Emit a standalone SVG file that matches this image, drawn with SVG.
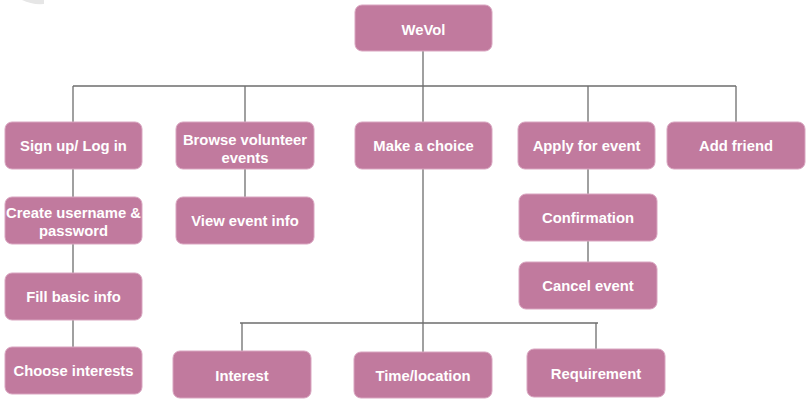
<svg xmlns="http://www.w3.org/2000/svg" width="809" height="401" viewBox="0 0 809 401">
<style>
.box{fill:#C17A9E;stroke:#D9A5C0;stroke-width:1}
.t{font-family:"Liberation Sans",Arial,sans-serif;font-size:14.8px;font-weight:bold;fill:#FFFFFF;text-anchor:middle}
.ln{stroke:#6E6E6E;stroke-width:1.3;fill:none}
</style>
<rect width="809" height="401" fill="#FFFFFF"/>
<path d="M22,0 Q32,5 44,4 L44,0 Z" fill="#E6E6E6"/>
<g id="connectors">
<path class="ln" d="M423,51 V86 M73,86 H736 M73,86 V122 M245,86 V122 M423,86 V122 M588,86 V122 M736,86 V122"/>
<path class="ln" d="M73,169 V197 M73,244 V273 M73,320 V347"/>
<path class="ln" d="M245,169 V197"/>
<path class="ln" d="M588,169 V194 M588,241 V262"/>
<path class="ln" d="M423,169 V352 M240,323 H598 M242,323 V351 M596,323 V349"/>
</g>
<g id="n-wevol"><rect class="box" x="355" y="5" width="137" height="46" rx="7"/><text class="t" x="423.5" y="35">WeVol</text></g>
<g id="n-signup"><rect class="box" x="5" y="122" width="137" height="47" rx="7"/><text class="t" x="73.5" y="151">Sign up/ Log in</text></g>
<g id="n-browse"><rect class="box" x="176" y="122" width="138" height="47" rx="7"/><text class="t" x="245" y="145">Browse volunteer</text><text class="t" x="245" y="163">events</text></g>
<g id="n-choice"><rect class="box" x="355" y="122" width="137" height="47" rx="7"/><text class="t" x="423.5" y="151">Make a choice</text></g>
<g id="n-apply"><rect class="box" x="518" y="122" width="137" height="47" rx="7"/><text class="t" x="586.5" y="151">Apply for event</text></g>
<g id="n-friend"><rect class="box" x="667" y="122" width="138" height="47" rx="7"/><text class="t" x="736" y="151">Add friend</text></g>
<g id="n-create"><rect class="box" x="5" y="197" width="137" height="47" rx="7"/><text class="t" x="73.5" y="218">Create username &amp;</text><text class="t" x="73.5" y="236">password</text></g>
<g id="n-view"><rect class="box" x="176" y="197" width="138" height="47" rx="7"/><text class="t" x="245" y="226">View event info</text></g>
<g id="n-confirm"><rect class="box" x="519" y="194" width="138" height="47" rx="7"/><text class="t" x="588" y="223">Confirmation</text></g>
<g id="n-cancel"><rect class="box" x="519" y="262" width="138" height="47" rx="7"/><text class="t" x="588" y="291">Cancel event</text></g>
<g id="n-fill"><rect class="box" x="5" y="273" width="137" height="47" rx="7"/><text class="t" x="73.5" y="302">Fill basic info</text></g>
<g id="n-interests"><rect class="box" x="5" y="347" width="137" height="47" rx="7"/><text class="t" x="73.5" y="376">Choose interests</text></g>
<g id="n-interest"><rect class="box" x="173" y="351" width="138" height="47" rx="7"/><text class="t" x="242" y="381">Interest</text></g>
<g id="n-time"><rect class="box" x="354" y="352" width="138" height="46" rx="7"/><text class="t" x="423" y="381">Time/location</text></g>
<g id="n-req"><rect class="box" x="527" y="349" width="138" height="48" rx="7"/><text class="t" x="596" y="379">Requirement</text></g>
</svg>
